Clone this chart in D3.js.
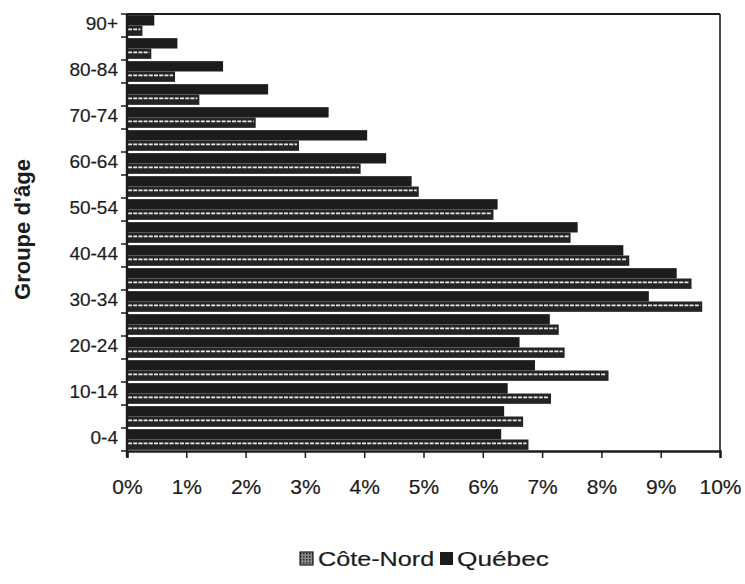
<!DOCTYPE html>
<html>
<head>
<meta charset="utf-8">
<script src="https://cdn.jsdelivr.net/npm/d3@7"></script>
<style>
  html, body { margin: 0; padding: 0; background: #fff; }
  svg { display: block; }
  text { font-family: "Liberation Sans", Arial, Helvetica, sans-serif; fill: #1c1c1c; }
  .lbl { stroke: #1c1c1c; stroke-width: 0.2px; }
</style>
</head>
<body>
<svg id="chart" width="745" height="584"></svg>
<script>
// Age groups, youngest first
const ageGroups = ["0-4","5-9","10-14","15-19","20-24","25-29","30-34","35-39","40-44",
                   "45-49","50-54","55-59","60-64","65-69","70-74","75-79","80-84","85-89","90+"];
// Share of the population (%) in each age group
const coteNord = [6.77, 6.68, 7.15, 8.12, 7.38, 7.28, 9.70, 9.52, 8.47, 7.48, 6.18, 4.92, 3.94, 2.90, 2.17, 1.22, 0.81, 0.41, 0.26];
const quebec   = [6.31, 6.36, 6.42, 6.88, 6.62, 7.13, 8.80, 9.27, 8.37, 7.60, 6.25, 4.80, 4.37, 4.05, 3.40, 2.38, 1.62, 0.85, 0.46];
const xTicks = [0,1,2,3,4,5,6,7,8,9,10];
const seriesNames = ["Côte-Nord", "Québec"];

const svg = d3.select("#chart");
const plotLeft = 127, plotRight = 720, plotTop = 14, plotBottom = 451;
const ink = "#1c1c1c";

const x = d3.scaleLinear().domain([0, 10]).range([plotLeft, plotRight]);
const y = d3.scaleBand().domain(ageGroups.slice().reverse()).range([plotTop, plotBottom])
  .paddingInner(0.1).paddingOuter(0.05);
// Within a group: Québec on top, Côte-Nord below
const sub = d3.scaleBand().domain(["Québec", "Côte-Nord"]).range([0, y.bandwidth()]);

const rows = ageGroups.map((g, i) => ({ g, cn: coteNord[i], qc: quebec[i] }));

// Québec bars (solid)
svg.append("g").selectAll("rect").data(rows).join("rect")
  .attr("x", x(0))
  .attr("y", d => y(d.g) + sub("Québec"))
  .attr("width", d => x(d.qc) - x(0))
  .attr("height", sub.bandwidth())
  .attr("fill", ink);

// Côte-Nord bars (dark with a light dotted stripe)
const cn = svg.append("g").selectAll("g").data(rows).join("g");
cn.append("rect")
  .attr("x", x(0))
  .attr("y", d => y(d.g) + sub("Côte-Nord"))
  .attr("width", d => x(d.cn) - x(0))
  .attr("height", sub.bandwidth())
  .attr("fill", "#242424");
cn.append("line")
  .attr("x1", x(0) + 1)
  .attr("x2", d => x(d.cn) - 2)
  .attr("y1", d => y(d.g) + sub("Côte-Nord") + sub.bandwidth() * 0.38)
  .attr("y2", d => y(d.g) + sub("Côte-Nord") + sub.bandwidth() * 0.38)
  .attr("stroke", "#e8e8e8")
  .attr("stroke-width", 1.8)
  .attr("stroke-dasharray", "4,1.2");

// Plot frame
svg.append("line").attr("x1", plotLeft).attr("x2", plotRight).attr("y1", plotTop).attr("y2", plotTop)
  .attr("stroke", ink).attr("stroke-width", 2.2);
svg.append("line").attr("x1", plotRight).attr("x2", plotRight).attr("y1", plotTop).attr("y2", plotBottom)
  .attr("stroke", ink).attr("stroke-width", 1.6);

// X axis
const xAxis = d3.axisBottom(x).tickValues(xTicks).tickFormat(d => d + "%").tickSize(7).tickPadding(21);
const gx = svg.append("g").attr("transform", `translate(0,${plotBottom})`).call(xAxis);
gx.select(".domain").attr("stroke", ink).attr("stroke-width", 2.4);
gx.selectAll(".tick line").attr("stroke", ink).attr("stroke-width", 1.5);
gx.selectAll(".tick text").attr("font-size", 21).attr("fill", ink).attr("class", "lbl")
  .attr("font-family", "'Liberation Sans', Arial, sans-serif");

// Y axis: ticks on group boundaries, labels on every second group
const gy = svg.append("g");
gy.append("line").attr("x1", plotLeft).attr("x2", plotLeft).attr("y1", plotTop).attr("y2", plotBottom + 6)
  .attr("stroke", ink).attr("stroke-width", 2.4);
const bounds = d3.range(ageGroups.length + 1).map(i => plotTop + (plotBottom - plotTop) * i / ageGroups.length);
gy.selectAll("line.tk").data(bounds).join("line").attr("class", "tk")
  .attr("x1", plotLeft - 6).attr("x2", plotLeft).attr("y1", d => d).attr("y2", d => d)
  .attr("stroke", ink).attr("stroke-width", 1.5);
gy.selectAll("text").data(ageGroups.filter((g, i) => i % 2 === 0)).join("text")
  .attr("class", "lbl")
  .attr("x", plotLeft - 9)
  .attr("y", g => y(g) + y.bandwidth() / 2 - 2)
  .attr("dy", "0.35em")
  .attr("text-anchor", "end")
  .attr("font-size", 19)
  .text(g => g);

// Axis title
svg.append("text")
  .attr("transform", `translate(30,${(plotTop + plotBottom) / 2 - 3}) rotate(-90)`)
  .attr("text-anchor", "middle")
  .attr("font-size", 22)
  .attr("font-weight", "bold")
  .text("Groupe d'âge");

// Legend
const defs = svg.append("defs");
const pat = defs.append("pattern").attr("id", "cnSwatch").attr("patternUnits", "userSpaceOnUse")
  .attr("width", 3).attr("height", 3);
pat.append("rect").attr("width", 3).attr("height", 3).attr("fill", "#8a8a8a");
pat.append("rect").attr("width", 1.5).attr("height", 1.5).attr("fill", "#2a2a2a");
const lg = svg.append("g").attr("transform", "translate(300,550)");
lg.append("rect").attr("x", 0).attr("y", 2).attr("width", 13).attr("height", 13)
  .attr("fill", "url(#cnSwatch)").attr("stroke", ink).attr("stroke-width", 1.2);
lg.append("text").attr("class", "lbl").attr("transform", "translate(18,16) scale(1.2,1)")
  .attr("font-size", 21).text(seriesNames[0]);
lg.append("rect").attr("x", 140).attr("y", 2).attr("width", 13).attr("height", 13).attr("fill", ink);
lg.append("text").attr("class", "lbl").attr("transform", "translate(157,16) scale(1.25,1)")
  .attr("font-size", 21).text(seriesNames[1]);
</script>
</body>
</html>
